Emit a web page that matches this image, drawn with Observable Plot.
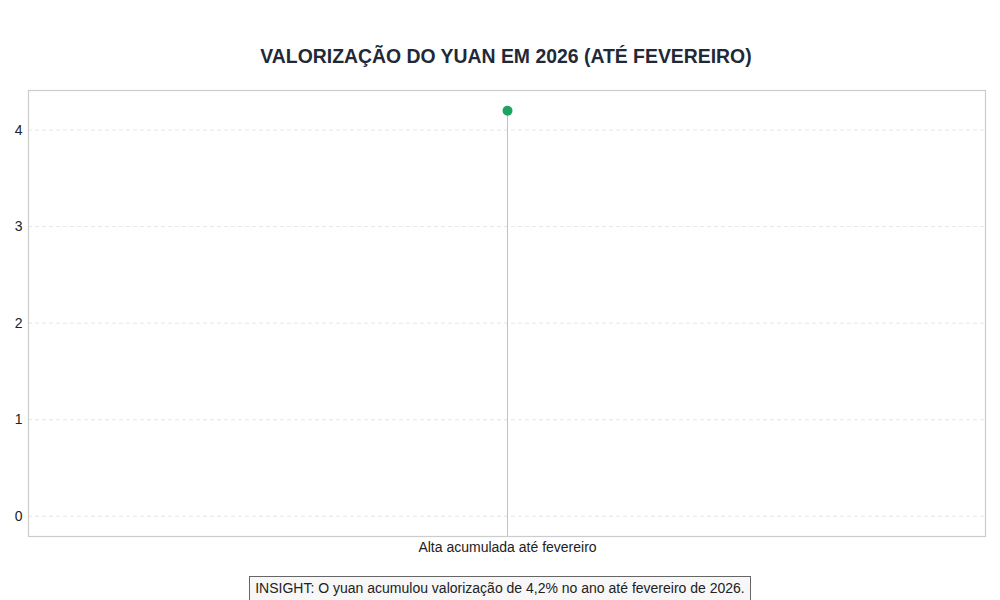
<!DOCTYPE html>
<html><head><meta charset="utf-8">
<script src="https://cdn.jsdelivr.net/npm/d3@7"></script>
<script src="https://cdn.jsdelivr.net/npm/@observablehq/plot@0.6"></script>
<style>
body{margin:0;background:#fff;font-family:"Liberation Sans",Arial,sans-serif;width:1000px;height:600px;overflow:hidden;}
#title{height:80px;box-sizing:border-box;padding-top:44px;padding-left:12px;text-align:center;font-weight:bold;font-size:19.4px;color:#1f2937;line-height:24px;}
#insight{text-align:center;margin-top:11px;}
#insight span{display:inline-block;border:1px solid #666;background:#f7f7f7;padding:3px 5px 4px 5px;font-size:14px;color:#222;}
</style></head><body>
<div id="title">VALORIZAÇÃO DO YUAN EM 2026 (ATÉ FEVEREIRO)</div>
<div id="chart"></div>
<div id="insight"><span>INSIGHT: O yuan acumulou valorização de 4,2% no ano até fevereiro de 2026.</span></div>
<script>
const categories = ["Alta acumulada até fevereiro"];
const values = [4.2];
const yTicks = [0, 1, 2, 3, 4];
const yDomain = [-0.21, 4.41];

const data = categories.map((c, i) => ({cat: c, val: values[i]}));

const chart = Plot.plot({
  width: 1000,
  height: 485,
  marginTop: 10,
  marginBottom: 29,
  marginLeft: 28,
  marginRight: 15,
  style: {fontFamily: '"Liberation Sans", Arial, sans-serif', fontSize: "14px", color: "#222"},
  x: {type: "point", domain: categories, label: null, tickSize: 0, tickPadding: 6},
  y: {domain: yDomain, ticks: yTicks, label: null, tickSize: 0, tickPadding: 6, tickFormat: d3.format("d")},
  marks: [
    Plot.gridY(yTicks, {stroke: "#e6e6e6", strokeOpacity: 1, strokeDasharray: "4,3"}),
    Plot.ruleX(data, {x: "cat", y1: yDomain[0], y2: "val", stroke: "#b5c7c0", strokeWidth: 1}),
    Plot.dot(data, {x: "cat", y: "val", r: 5, fill: "#1ea462", stroke: "none"}),
    Plot.frame({stroke: "#cccccc", strokeWidth: 1.2})
  ]
});
document.getElementById("chart").appendChild(chart);
</script>
</body></html>
